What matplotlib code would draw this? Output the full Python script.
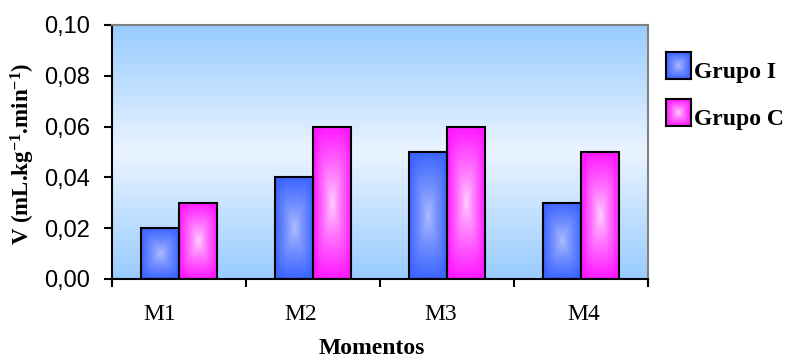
import numpy as np
import matplotlib
matplotlib.use("Agg")
import matplotlib.pyplot as plt
from matplotlib.colors import to_rgb
from matplotlib.ticker import FuncFormatter, FixedLocator
from matplotlib.transforms import ScaledTranslation

# dados do grafico
momentos = ["M1", "M2", "M3", "M4"]
grupo_i = [0.02, 0.04, 0.05, 0.03]
grupo_c = [0.03, 0.06, 0.06, 0.05]
grupos = ["Grupo I", "Grupo C"]

# cores (borda, centro) do degrade de cada grupo
cores = [("#3d66ff", "#b2c0ff"), ("#ff1aff", "#ffd6ff")]

plt.rcParams["mathtext.fontset"] = "custom"
plt.rcParams["mathtext.rm"] = "Liberation Serif:bold"
plt.rcParams["mathtext.it"] = "Liberation Serif:bold"
plt.rcParams["mathtext.bf"] = "Liberation Serif:bold"


def degrade_retangular(borda, centro, n=120):
    # degrade "do centro", forma de retangulo arredondado
    u = np.linspace(-1, 1, n)
    U, V = np.meshgrid(u, u)
    t = (np.abs(U) ** 4 + np.abs(V) ** 4) ** 0.25
    t = np.clip(t, 0, 1)[..., None] ** 0.8
    b = np.array(to_rgb(borda))
    c = np.array(to_rgb(centro))
    return c + (b - c) * t


def degrade_fundo(n=200):
    # azul nas bordas, quase branco no meio
    y = np.linspace(-1, 1, n)
    t = np.abs(y)[:, None, None]
    b = np.array(to_rgb("#99ccff"))
    c = np.array(to_rgb("#eaf4ff"))
    return np.repeat(c + (b - c) * t, 2, axis=1)


W, H = 787, 362
fig = plt.figure(figsize=(W / 100, H / 100), dpi=100)
ax = fig.add_axes([112 / W, 1 - 279 / H, 536 / W, 254 / H])

x = np.arange(len(momentos))
largura = 0.284

ax.imshow(degrade_fundo(), extent=(-0.5, len(momentos) - 0.5, 0, 0.10),
          aspect="auto", zorder=0, interpolation="bilinear")

for k, serie in enumerate([grupo_i, grupo_c]):
    desloc = (k - 0.5) * largura
    barras = ax.bar(x + desloc, serie, largura, facecolor="none",
                    edgecolor="black", linewidth=1.5, zorder=3)
    img = degrade_retangular(*cores[k])
    for b in barras:
        x0, y0 = b.get_x(), b.get_y()
        ax.imshow(img, extent=(x0, x0 + b.get_width(), y0, y0 + b.get_height()),
                  aspect="auto", zorder=2, interpolation="bilinear")

ax.set_xlim(-0.5, len(momentos) - 0.5)
ax.set_ylim(0, 0.10)

# eixo y
ax.set_yticks(np.arange(0, 0.101, 0.02))
ax.yaxis.set_major_formatter(FuncFormatter(lambda v, p: f"{v:.2f}".replace(".", ",")))
ax.tick_params(axis="y", length=6, width=1.5, pad=10, labelsize=17)
for lb in ax.get_yticklabels():
    lb.set_fontfamily("Liberation Sans")

# eixo x: marcas entre categorias, rotulos no centro
ax.xaxis.set_major_locator(FixedLocator(np.arange(-0.5, len(momentos), 1.0)))
ax.xaxis.set_major_formatter(FuncFormatter(lambda v, p: ""))
ax.xaxis.set_minor_locator(FixedLocator(x))
ax.set_xticklabels(momentos, minor=True)
ax.tick_params(axis="x", which="major", length=6, width=1.5)
ax.tick_params(axis="x", which="minor", length=0, pad=18, labelsize=17)
ajuste = [-19, -12, -6, 3]  # deslocamento horizontal dos rotulos, em px
for lb, dx in zip(ax.get_xticklabels(minor=True), ajuste):
    lb.set_fontfamily("Liberation Serif")
    lb.set_transform(lb.get_transform() + ScaledTranslation(dx / 100, 0, fig.dpi_scale_trans))

for lado in ["left", "bottom"]:
    ax.spines[lado].set_linewidth(1.5)
    ax.spines[lado].set_color("black")
for lado in ["top", "right"]:
    ax.spines[lado].set_linewidth(1.5)
    ax.spines[lado].set_color("#808080")
for s in ax.spines.values():
    s.set_zorder(4)

fig.text(23 / W, 1 - 154 / H, r"V (mL.kg$^{-1}$.min$^{-1}$)", rotation=90,
         ha="center", va="center", fontsize=16.5, fontweight="bold",
         fontfamily="Liberation Serif")
fig.text(372 / W, 1 - 349 / H, "Momentos", ha="center", va="center",
         fontsize=17, fontweight="bold", fontfamily="Liberation Serif")

# legenda
for k, nome in enumerate(grupos):
    topo = 52 + k * 47
    lax = fig.add_axes([666 / W, 1 - (topo + 27) / H, 25 / W, 27 / H])
    lax.imshow(degrade_retangular(*cores[k], n=40), aspect="auto",
               interpolation="bilinear")
    lax.set_xticks([])
    lax.set_yticks([])
    for s in lax.spines.values():
        s.set_linewidth(1.5)
    fig.text(694 / W, 1 - (topo + 26) / H, nome, ha="left", va="baseline",
             fontsize=17, fontweight="bold", fontfamily="Liberation Serif")

fig.savefig("out.png", dpi=100)
